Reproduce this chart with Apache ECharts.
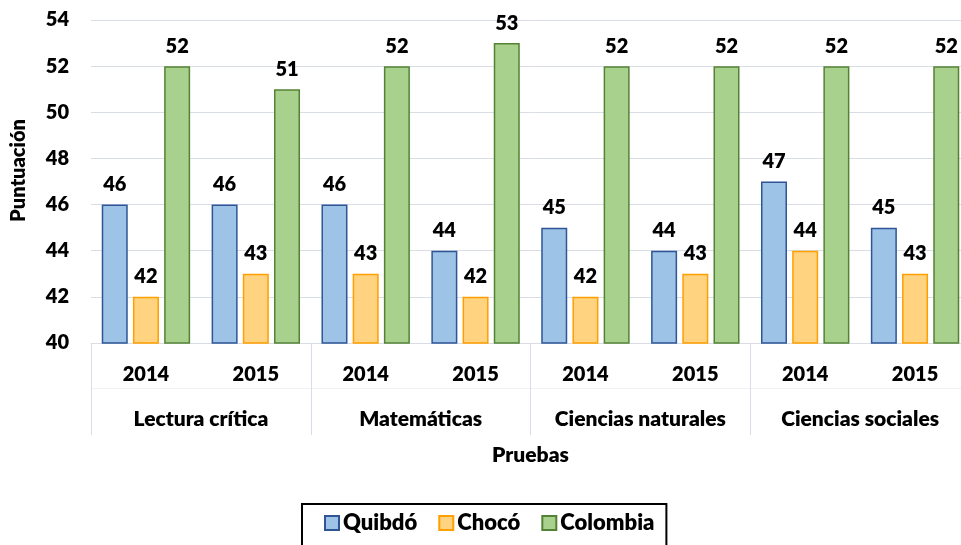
<!DOCTYPE html>
<html>
<head>
<meta charset="utf-8">
<script src="https://cdn.jsdelivr.net/npm/echarts@6/dist/echarts.min.js"></script>
<style>
  html, body { margin: 0; padding: 0; background: #fff; overflow: hidden; }
  #chart { width: 970px; height: 545px; }
</style>
</head>
<body>
<div id="chart"></div>
<script>
// datos
const years = ['2014', '2015', '2014', '2015', '2014', '2015', '2014', '2015'];
const pruebas = ['Lectura crítica', 'Matemáticas', 'Ciencias naturales', 'Ciencias sociales'];
const quibdo = [46, 46, 46, 44, 45, 44, 47, 45];
const choco = [42, 43, 43, 42, 42, 43, 44, 43];
const colombia = [52, 51, 52, 53, 52, 52, 52, 52];
const yTicks = { min: 40, max: 54, interval: 2 };

const FONT = 'Lato, "Open Sans", sans-serif';
const WEIGHT = 800;
const GRID_LINE = '#D9DEE6';

const myChart = echarts.init(document.getElementById('chart'));

function serie(name, data, fill, border) {
  return {
    name: name,
    type: 'bar',
    data: data,
    xAxisIndex: 0,
    barWidth: 26,
    barGap: '20%',
    itemStyle: { color: fill, borderColor: border, borderWidth: 1.5 },
    label: {
      show: true,
      position: 'top',
      distance: 10,
      color: '#000',
      fontFamily: FONT,
      fontWeight: WEIGHT,
      fontSize: 20
    }
  };
}

const option = {
  animation: false,
  textStyle: { fontFamily: FONT },
  grid: { left: 91, top: 20, right: 0, height: 323 },
  legend: {
    data: ['Quibdó', 'Chocó', 'Colombia'],
    left: 302,
    top: 504,
    padding: [8, 12, 12, 22],
    borderColor: '#000',
    borderWidth: 2,
    itemWidth: 14,
    itemHeight: 14,
    itemGap: 21,
    icon: 'rect',
    textStyle: { fontFamily: FONT, fontWeight: WEIGHT, fontSize: 22, color: '#000', padding: [0, 0, 0, -1] }
  },
  xAxis: [
    {
      type: 'category',
      data: years,
      axisLine: { show: true, lineStyle: { color: GRID_LINE, width: 1 } },
      axisTick: { show: false },
      axisLabel: { margin: 22, color: '#000', fontFamily: FONT, fontWeight: WEIGHT, fontSize: 20 }
    },
    {
      type: 'category',
      data: pruebas,
      position: 'bottom',
      axisLine: { show: false },
      axisTick: { show: true, interval: 0, length: 92, lineStyle: { color: GRID_LINE } },
      axisLabel: { margin: 66, interval: 0, color: '#000', fontFamily: FONT, fontWeight: WEIGHT, fontSize: 21 },
      name: 'Pruebas',
      nameLocation: 'middle',
      nameGap: 102,
      nameTextStyle: { color: '#000', fontFamily: FONT, fontWeight: WEIGHT, fontSize: 21 }
    },
    {
      type: 'category',
      data: years,
      position: 'bottom',
      offset: 45,
      axisLine: { show: true, lineStyle: { color: '#EEF0F4', width: 1 } },
      axisTick: { show: false },
      axisLabel: { show: false }
    }
  ],
  yAxis: {
    type: 'value',
    min: yTicks.min,
    max: yTicks.max,
    interval: yTicks.interval,
    axisLine: { show: false },
    axisTick: { show: false },
    splitLine: { lineStyle: { color: GRID_LINE, width: 1 } },
    axisLabel: { margin: 22, color: '#000', fontFamily: FONT, fontWeight: WEIGHT, fontSize: 20 },
    name: 'Puntuación',
    nameLocation: 'middle',
    nameGap: 62,
    nameTextStyle: { color: '#000', fontFamily: FONT, fontWeight: WEIGHT, fontSize: 20, padding: [0, 0, 0, 22] }
  },
  series: [
    serie('Quibdó', quibdo, '#9DC3E6', '#2F5597'),
    serie('Chocó', choco, '#FFD37F', '#FF9F00'),
    serie('Colombia', colombia, '#A9D18E', '#548235')
  ]
};

myChart.setOption(option);
</script>
</body>
</html>
